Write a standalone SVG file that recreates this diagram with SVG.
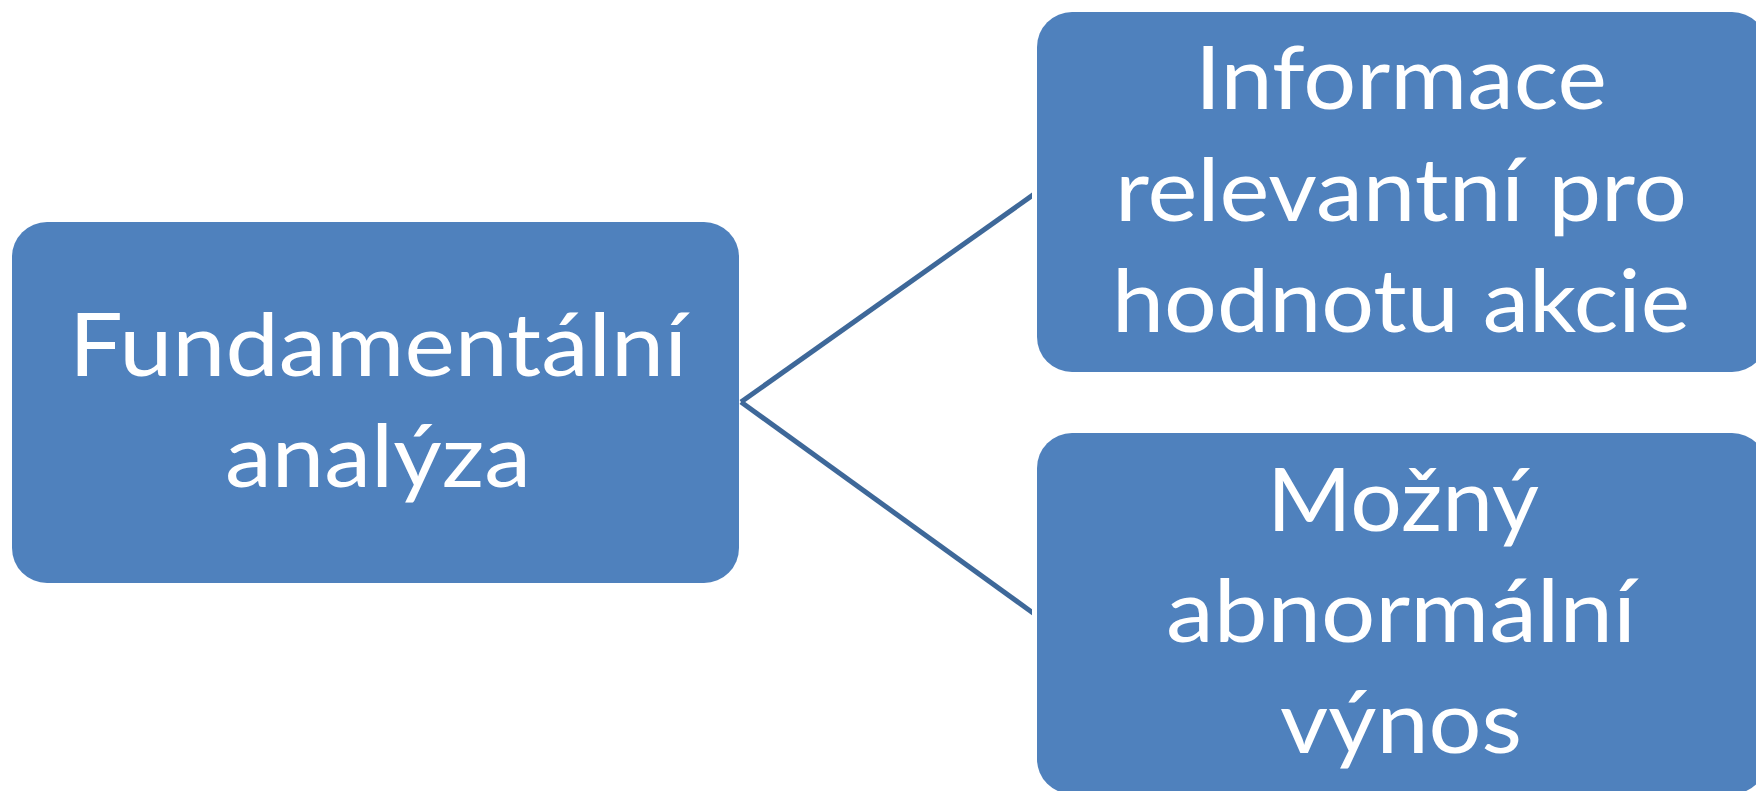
<svg xmlns="http://www.w3.org/2000/svg" width="1756" height="791" viewBox="0 0 1756 791">
<style>
.box{fill:#4F81BD;}
.lbl{font-family:Lato,"Open Sans","Liberation Sans",sans-serif;font-size:87px;fill:#FFFFFF;text-anchor:middle;}
.conn{stroke:#3E6899;stroke-width:5;fill:none;stroke-linecap:butt;}
</style>
<defs>
<clipPath id="connClip"><rect x="0" y="0" width="1032" height="791"/></clipPath>
</defs>
<rect x="0" y="0" width="1756" height="791" fill="#FFFFFF"/>
<g id="connectors" clip-path="url(#connClip)">
<line class="conn" x1="741" y1="402" x2="1040" y2="190"/>
<line class="conn" x1="741" y1="402" x2="1040" y2="618"/>
</g>
<g id="node-fundamentalni">
<rect class="box" x="12" y="222" width="727" height="361" rx="35" ry="35"/>
<text class="lbl" x="378" y="376" textLength="618" lengthAdjust="spacingAndGlyphs">Fundamentální</text>
<text class="lbl" x="378" y="487" textLength="306" lengthAdjust="spacingAndGlyphs">analýza</text>
</g>
<g id="node-informace">
<rect class="box" x="1037" y="12" width="730" height="360" rx="35" ry="35"/>
<text class="lbl" x="1401" y="109" textLength="412" lengthAdjust="spacingAndGlyphs">Informace</text>
<text class="lbl" x="1401" y="221" textLength="572" lengthAdjust="spacingAndGlyphs">relevantní pro</text>
<text class="lbl" x="1401" y="332" textLength="578" lengthAdjust="spacingAndGlyphs">hodnotu akcie</text>
</g>
<g id="node-vynos">
<rect class="box" x="1037" y="433" width="730" height="361" rx="35" ry="35"/>
<text class="lbl" x="1403" y="531" textLength="272" lengthAdjust="spacingAndGlyphs">Možný</text>
<text class="lbl" x="1401" y="642" textLength="470" lengthAdjust="spacingAndGlyphs">abnormální</text>
<text class="lbl" x="1401" y="753" textLength="242" lengthAdjust="spacingAndGlyphs">výnos</text>
</g>
</svg>
